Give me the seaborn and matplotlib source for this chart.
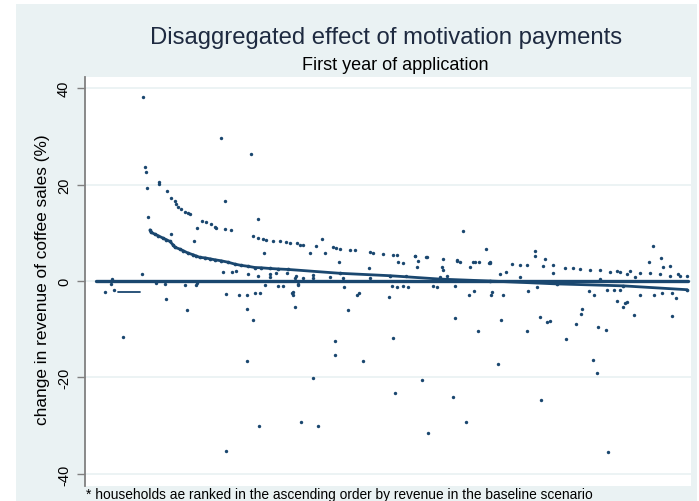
import matplotlib
matplotlib.use("Agg")
import matplotlib.pyplot as plt
from matplotlib.patches import Rectangle
import seaborn as sns
import pandas as pd

# ---------------- data (household rank, % change) ----------------
title = "Disaggregated effect of motivation payments"
subtitle = "First year of application"
ylabel = "change in revenue of coffee sales (%)"
note = "* households ae ranked in the ascending order by revenue in the baseline scenario"
yticks = [-40, -20, 0, 20, 40]
ytick_labels = ["-40", "-20", "0", "20", "40"]

# upper decaying series
a_rank = [50, 51, 52, 64, 64, 72, 76, 80, 81, 83, 86, 90, 93, 95, 107, 111, 116, 120, 121, 130,
          136, 158, 163, 168, 171, 178, 185, 191, 195, 202, 205, 208, 221, 238, 241, 245, 255, 260, 275, 278,
          288, 298, 302, 320, 332, 348, 362, 378, 395, 417, 425, 432, 448, 458, 470, 478, 485, 495, 505, 515,
          525, 535, 545, 555, 565, 575, 583, 592]
a_val = [23.7, 22.7, 19.2, 20.5, 20.2, 18.6, 17.3, 16.5, 16.0, 15.4, 14.9, 14.4, 14.0, 13.9, 12.5, 12.2, 11.8, 11.3, 11.0, 10.8,
         10.6, 9.4, 9.0, 8.7, 8.5, 8.4, 8.2, 8.0, 7.9, 7.8, 7.5, 7.4, 7.25, 7.0, 6.8, 6.7, 6.5, 6.35, 6.1, 5.9,
         5.6, 5.45, 5.3, 5.2, 4.9, 4.6, 4.2, 3.9, 3.7, 3.5, 3.4, 3.3, 3.2, 3.4, 2.8, 2.6, 2.5, 2.35, 2.35, 1.8,
         1.8, 2.0, 1.65, 1.65, 1.45, 1.1, 1.45, 1.0]

# lower decaying series (dense)
b_rank = [55, 56, 60, 63, 68, 71, 75, 78, 80, 85, 88, 93, 98, 101, 105, 110, 115, 120, 126, 133,
          140, 146, 153, 160, 166, 175, 183, 193, 245, 295, 345, 395, 462, 528, 592]
b_val = [10.6, 10.1, 9.7, 9.4, 8.9, 8.6, 8.2, 7.5, 7.0, 6.6, 6.3, 5.8, 5.45, 5.2, 4.9, 4.8, 4.6, 4.4, 4.2, 3.9,
         3.5, 3.25, 3.05, 2.8, 2.75, 2.6, 2.5, 2.4, 1.6, 1.1, 0.4, 0.0, -0.6, -1.0, -1.8]

# households with no change (dense at zero)
z_rank = [1, 593]
z_val = [0.0, 0.0]

# short dense run just below zero
s_rank = [23, 45]
s_val = [-2.35, -2.35]

# scattered households
o_rank = [48, 126, 156, 130, 163, 53, 102, 76, 99, 169, 47, 128, 137, 141, 153, 163, 175, 175, 181, 192,
          10, 19, 16, 71, 92, 101, 131, 144, 152, 160, 165, 170, 183, 188, 197, 152, 158, 28, 152, 164, 131,
          368, 227, 215, 230, 244, 274, 303, 308, 320, 323, 331, 322, 347, 348, 352, 362, 365, 375, 380, 384,
          391, 394, 200, 208, 218, 235, 203, 198, 198, 200, 249, 253, 262, 264, 294, 297, 302, 308, 313, 338,
          342, 360, 360, 374, 379, 396, 383, 240, 240, 298, 268, 218, 327, 358, 300, 206, 223, 371, 333,
          558, 566, 554, 568, 575, 440, 440, 450, 411, 458, 522, 532, 395, 397, 408, 433, 442, 494, 499, 512,
          519, 525, 522, 528, 530, 532, 539, 545, 559, 567, 577, 581, 406, 432, 445, 452, 455, 471, 481, 486,
          487, 503, 511, 577, 403, 498, 502, 446, 513,
          17, 61, 70, 90, 102, 201, 203, 218, 248, 275, 311, 345, 405, 425, 505, 540, 585]
o_val = [38.2, 29.6, 26.3, 16.5, 12.85, 13.3, 11.0, 9.7, 8.2, 5.9, 1.45, 1.8, 1.8, 2.1, 1.45, 0.97, 1.45, 0.9, 1.65, 1.65,
         -2.35, -1.8, -0.6, -3.7, -6.0, -0.8, -2.7, -3.0, -2.9, -2.5, -2.5, -0.8, -1.0, -1.0, -2.4, -5.7, -8.0, -11.7, -16.6, -30.1, -35.2,
         10.4, 8.7, 5.8, 5.9, 3.9, 2.8, 4.0, 3.7, 5.1, 4.2, 4.9, 3.0, 3.0, 2.3, 1.1, 4.4, 3.9, 3.0, 3.9, 3.9,
         6.7, 3.7, 0.7, 0.7, 0.6, 0.9, -0.8, -2.35, -2.8, -5.4, -1.3, -6.0, -2.8, -2.5, -3.4, -1.0, -1.2, -1.0, -1.3, -1.0,
         -1.2, -1.0, -7.7, -2.8, -2.0, -2.8, -10.3, -12.4, -15.3, -11.9, -16.5, -20.1, -20.6, -24.1, -23.3, -29.3, -30.0, -29.2, -31.5,
         7.3, 4.8, 4.0, 3.0, 3.2, 6.3, 5.2, 4.6, 1.8, 1.65, 2.1, 1.45, 3.9, -2.35, -3.0, -2.1, -1.2, -2.1, -2.8, -1.9,
         -1.8, -1.9, -4.1, -5.3, -4.6, -4.3, -7.0, -2.8, -2.8, -2.5, -2.5, -3.6, -8.0, -10.4, -7.5, -8.5, -8.2, -12.0, -8.9, -6.8,
         -5.8, -9.6, -10.2, -7.3, -17.2, -16.4, -19.1, -24.7, -35.4,
         0.4, -0.5, -0.6, -0.8, -0.5, 1.0, -0.7, 1.2, 0.7, 0.6, 1.0, 0.9, 1.5, 0.9, 0.5, 0.8, 1.0]

# ---------------- styling ----------------
navy = "#1A476F"
bg = "#EAF2F3"
W, H = 699, 502

sns.set_theme(style="white")
plt.rcParams["font.family"] = ["Liberation Sans", "DejaVu Sans"]

fig = plt.figure(figsize=(W / 100, H / 100), dpi=100, facecolor="white")
fig.patches.append(Rectangle((16 / W, 0), 1 - 18 / W, 1 - 5 / H, transform=fig.transFigure,
                             facecolor=bg, edgecolor="none", zorder=-10))

left, right, top, bottom = 85, 691, 78, 487
ax = fig.add_axes([left / W, 1 - bottom / H, (right - left) / W, (bottom - top) / H])
ax.set_facecolor("white")

for t in yticks:
    ax.axhline(t, color=bg, lw=1.3, zorder=0)

sns.lineplot(x=z_rank, y=z_val, ax=ax, color=navy, lw=2.4, zorder=3)
sns.lineplot(x=s_rank, y=s_val, ax=ax, color=navy, lw=1.3, zorder=3)
sns.lineplot(x=b_rank, y=b_val, ax=ax, color=navy, lw=2.0, zorder=3)
sns.scatterplot(x=b_rank, y=b_val, ax=ax, color=navy, s=7, linewidth=0, zorder=4)
sns.scatterplot(x=a_rank, y=a_val, ax=ax, color=navy, s=6, linewidth=0, zorder=4)
sns.scatterplot(x=o_rank, y=o_val, ax=ax, color=navy, s=6, linewidth=0, zorder=4)

ax.set_xlim(-10, 596)
ax.set_ylim(-42.5, 42.3)
ax.set_yticks(yticks)
ax.set_yticklabels(ytick_labels, rotation=90, va="center", fontsize=10.5, color="black")
ax.set_xticks([])
ax.set_xlabel("")
ax.set_ylabel("")
for s in ["top", "right", "bottom"]:
    ax.spines[s].set_visible(False)
ax.spines["left"].set_color("#808080")
ax.spines["left"].set_linewidth(1.3)
ax.tick_params(axis="y", which="major", left=True, length=6, width=1.0, color="#808080", pad=4)

fig.text(386 / W, 1 - 38 / H, title, ha="center", va="center", fontsize=17.2, color="#1E2A40")
fig.text(395 / W, 1 - 65 / H, subtitle, ha="center", va="center", fontsize=13, color="black")
fig.text(43 / W, 1 - 280 / H, ylabel, ha="center", va="center", rotation=90, fontsize=12.4, color="black")
fig.text(86 / W, 1 - 495 / H, note, ha="left", va="center", fontsize=9.9, color="black")

fig.savefig("out.png", dpi=100, facecolor="white")
